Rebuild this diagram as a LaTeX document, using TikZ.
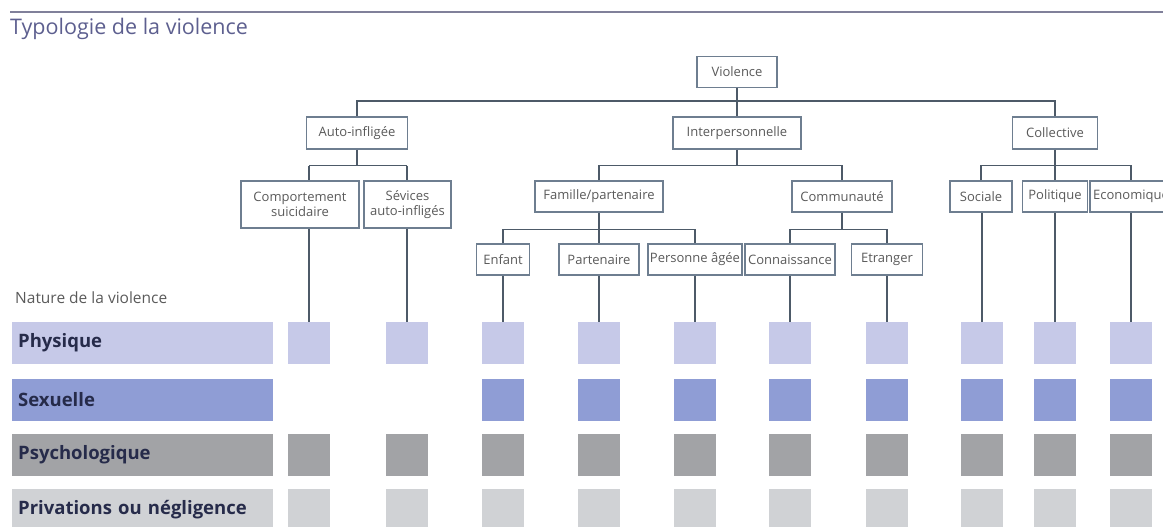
\documentclass[tikz,border=0pt]{standalone}
\usepackage{fontspec}
\setmainfont{Open Sans}
\definecolor{titlecol}{HTML}{5D5F8F}
\definecolor{rulecol}{HTML}{80809A}
\definecolor{boxcol}{HTML}{6E7E90}
\definecolor{linecol}{HTML}{4D5A68}
\definecolor{boxtext}{HTML}{5A5A5A}
\definecolor{rowtext}{HTML}{262B4A}
\definecolor{physcol}{HTML}{C6C9E8}
\definecolor{sexcol}{HTML}{8F9DD5}
\definecolor{psycol}{HTML}{A2A3A6}
\definecolor{privcol}{HTML}{D0D2D5}
\begin{document}
\begin{tikzpicture}[x=1pt,y=-1pt]
\tikzset{
  box/.style={draw=boxcol, line width=1.1pt, fill=white, inner sep=1pt, text=boxtext,
    font=\fontsize{13}{14.5}\selectfont, align=center, minimum height=31pt},
  tie/.style={draw=linecol, line width=1.4pt},
  swatch/.style={minimum width=42pt, minimum height=42pt, inner sep=0pt},
  rowbar/.style={anchor=west, minimum height=42pt, text width=249pt, inner xsep=6pt,
    inner ysep=0pt, align=left, text=rowtext, font=\bfseries\fontsize{18.5}{20}\selectfont}
}
\useasboundingbox (0,0) rectangle (1163,527);
\clip (0,0) rectangle (1163,527);

% title
\coordinate (ruleL) at (10,12.5);
\coordinate (ruleR) at (1163,12.5);
\draw[rulecol, line width=2pt] (ruleL) -- (ruleR);
\node[anchor=base west, inner sep=0pt, text=titlecol, font=\fontsize{21.5}{23}\selectfont] (title) at (10,35) {Typologie de la violence};

% tree
\node[box, minimum width=80pt] (violence) at (737,72) {Violence};
\node[box, minimum width=101pt, minimum height=32pt] (auto) at (357,133) {Auto-infligée};
\node[box, minimum width=128pt, minimum height=32pt] (inter) at (737,133) {Interpersonnelle};
\node[box, minimum width=85pt, minimum height=32pt] (coll) at (1055,133) {Collective};

\node[box, minimum width=118pt, minimum height=47pt] (cs) at (300,204.5) {Comportement\\suicidaire};
\node[box, minimum width=87pt, minimum height=47pt] (sev) at (407.5,204.5) {Sévices\\auto-infligés};
\node[box, minimum width=128pt] (fam) at (599,196.5) {Famille/partenaire};
\node[box, minimum width=100pt] (comm) at (842,196.5) {Communauté};
\node[box, minimum width=62pt] (soc) at (981,196.5) {Sociale};
\node[box, minimum width=65pt] (pol) at (1055,196.5) {Politique};
\node[box, minimum width=82pt] (eco) at (1131,196.5) {Economique};

\node[box, minimum width=53pt] (enf) at (503,259.5) {Enfant};
\node[box, minimum width=80pt] (part) at (599,259.5) {Partenaire};
\node[box, minimum width=94pt] (pers) at (695,259.5) {Personne âgée};
\node[box, minimum width=90pt] (conn) at (790,259.5) {Connaissance};
\node[box, minimum width=71pt] (etr) at (887,259.5) {Etranger};

\coordinate (b1) at (737,101);
\draw[tie] (auto.north) |- (b1) -| (coll.north);
\draw[tie] (violence.south) -- (inter.north);

\draw[tie] (auto.south) -- ++(0,16) coordinate (b2);
\draw[tie] (inter.south) -- ++(0,16) coordinate (b3);
\draw[tie] (coll.south) -- (pol.north);
\path (coll.south) -- ++(0,16) coordinate (b4);
\draw[tie] (fam.north) |- (b3) -| (comm.north);
\draw[tie] (soc.north) |- (b4) -| (eco.north);

\draw[tie] (fam.south) -- ++(0,17) coordinate (b5);
\draw[tie] (enf.north) |- (b5) -| (pers.north);
\draw[tie] (b5) -- (part.north);
\draw[tie] (comm.south) -- ++(0,17) coordinate (b6);
\draw[tie] (conn.north) |- (b6) -| (etr.north);

% nature of violence
\node[anchor=base west, inner sep=0pt, text=boxtext, font=\fontsize{15.5}{17}\selectfont] (nature) at (15,303) {Nature de la violence};
\node[rowbar, fill=physcol] (rphys) at (12,343) {Physique};
\node[rowbar, fill=sexcol] (rsex) at (12,399.5) {Sexuelle};
\node[rowbar, fill=psycol] (rpsy) at (12,454.5) {Psychologique};
\node[rowbar, fill=privcol] (rpriv) at (12,510) {Privations ou négligence};

\foreach \col/\x in {1/309,2/407,3/503,4/599,5/695,6/790,7/887,8/982,9/1055,10/1131} {
  \node[swatch, fill=physcol] (p\col) at (\x,343) {};
  \node[swatch, fill=psycol] (y\col) at (\x,454.5) {};
  \node[swatch, fill=privcol] (n\col) at (\x,510) {};
}
\foreach \col/\x in {3/503,4/599,5/695,6/790,7/887,8/982,9/1055,10/1131}
  \node[swatch, fill=sexcol] (s\col) at (\x,399.5) {};

\draw[tie] (b2 -| p1) -- (b2 -| p2);
\draw[tie] (b2 -| p1) -- (p1 |- cs.north);
\draw[tie] (b2 -| p2) -- (p2 |- sev.north);

\foreach \col/\leaf in {1/cs,2/sev,3/enf,4/part,5/pers,6/conn,7/etr,8/soc,9/pol,10/eco}
  \draw[tie] (p\col.north) -- (p\col.north |- \leaf.south);
\end{tikzpicture}
\end{document}
